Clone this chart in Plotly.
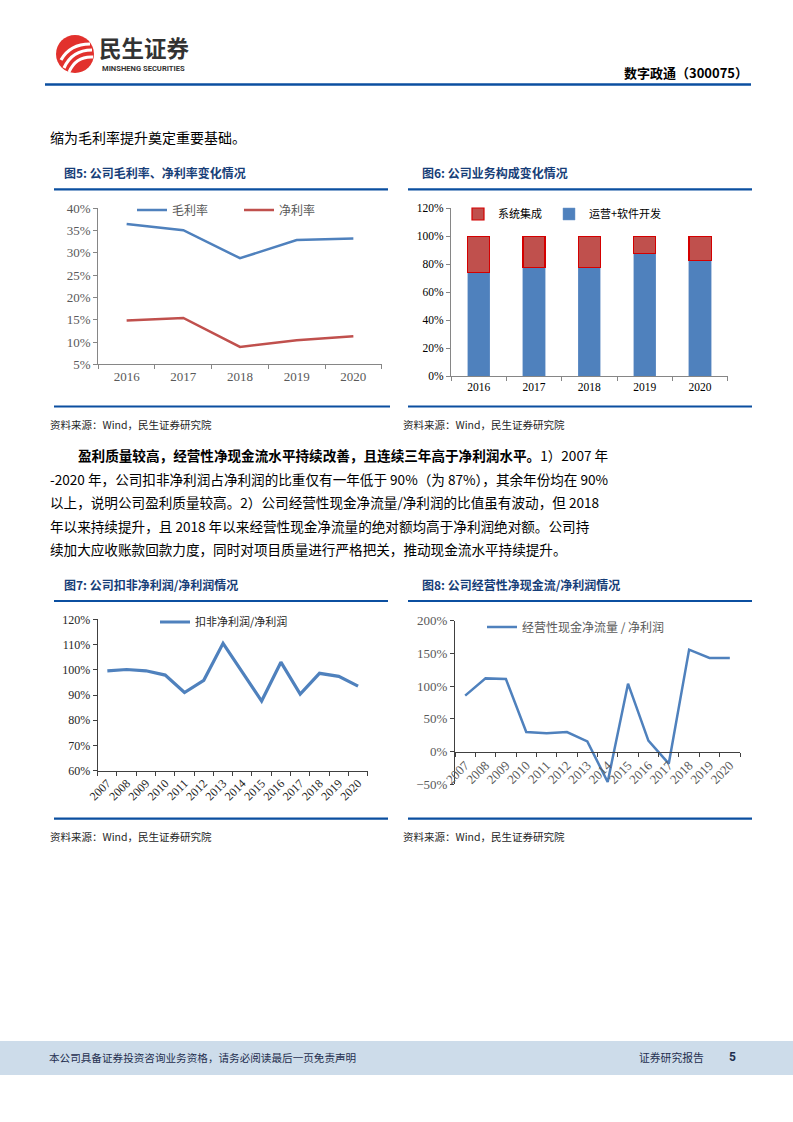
import plotly.graph_objects as go

W, H = 793, 1122


def px(x):
    return x / W


def py(y):
    return 1 - y / H


# ---------------- data ----------------
years_5 = ["2016", "2017", "2018", "2019", "2020"]
gross_margin = [36.5, 35.1, 28.8, 32.9, 33.2]
net_margin = [14.8, 15.4, 8.9, 10.4, 11.3]

years_6 = ["2016", "2017", "2018", "2019", "2020"]
ops_software = [74.2, 77.5, 77.8, 87.8, 82.8]
system_integration = [25.8, 22.5, 22.2, 12.2, 17.2]

years_7 = ["2007", "2008", "2009", "2010", "2011", "2012", "2013",
           "2014", "2015", "2016", "2017", "2018", "2019", "2020"]
deducted_to_net = [99.6, 100.1, 99.6, 97.9, 91.0, 95.8, 110.5,
                   99.2, 87.6, 103.0, 90.4, 98.6, 97.4, 93.5]

years_8 = ["2007", "2008", "2009", "2010", "2011", "2012", "2013",
           "2014", "2015", "2016", "2017", "2018", "2019", "2020"]
ocf_to_net = [85.3, 111.7, 110.8, 29.6, 27.6, 29.6, 15.3,
              -46.9, 103.6, 16.3, -18.9, 155.7, 143.0, 143.0]

BLUE = "#4F81BD"
RED = "#C0504D"
NAVY_LINE = "#0B4FA0"
TITLE_C = "#173E78"
SERIF = "Liberation Serif"
CJK = "Noto Sans CJK SC"

fig = go.Figure()

# chart 5
fig.add_trace(go.Scatter(x=years_5, y=gross_margin, mode="lines", name="毛利率",
                         line=dict(color=BLUE, width=2.5), xaxis="x", yaxis="y",
                         legend="legend", legendwidth=62))
fig.add_trace(go.Scatter(x=years_5, y=net_margin, mode="lines", name="净利率",
                         line=dict(color=RED, width=2.5), xaxis="x", yaxis="y",
                         legend="legend"))
# chart 6
fig.add_trace(go.Bar(x=years_6, y=ops_software, name="运营+软件开发",
                     marker=dict(color=BLUE, line=dict(color="#6F97C9", width=0.5)),
                     xaxis="x2", yaxis="y2", legend="legend2"))
fig.add_trace(go.Bar(x=years_6, y=system_integration, name="系统集成",
                     marker=dict(color=RED, line=dict(color="#D40000", width=1.2)),
                     xaxis="x2", yaxis="y2", legend="legend2", legendwidth=46))
# chart 7
fig.add_trace(go.Scatter(x=years_7, y=deducted_to_net, mode="lines", name="扣非净利润/净利润",
                         line=dict(color=BLUE, width=3.2), xaxis="x3", yaxis="y3",
                         legend="legend3"))
# chart 8
fig.add_trace(go.Scatter(x=years_8, y=ocf_to_net, mode="lines", name="经营性现金净流量 / 净利润",
                         line=dict(color=BLUE, width=2.5), xaxis="x4", yaxis="y4",
                         legend="legend4"))


def xax(x0, x1, anchor, n, tickfont, linecolor, **kw):
    d = dict(domain=[px(x0), px(x1)], anchor=anchor, type="category",
             range=[-0.5, n - 0.5], automargin=False,
             showline=True, linecolor=linecolor, linewidth=1,
             ticks="outside", tickson="boundaries", ticklen=4, tickcolor=linecolor,
             tickfont=tickfont, showgrid=False, zeroline=False, fixedrange=True)
    d.update(kw)
    return d


def yax(y_top, y_bot, anchor, rng, dtick, tickfont, linecolor, **kw):
    d = dict(domain=[py(y_bot), py(y_top)], anchor=anchor, range=rng, dtick=dtick,
             automargin=False,
             ticksuffix="%", showline=True, linecolor=linecolor, linewidth=1,
             ticks="outside", ticklen=4, tickcolor=linecolor, tickfont=tickfont,
             showgrid=False, zeroline=False, fixedrange=True)
    d.update(kw)
    return d


f5 = dict(family=SERIF, size=13, color="#595959")
f6 = dict(family=SERIF, size=11.5, color="#000000")
f7 = dict(family=SERIF, size=12, color="#262626")
f8 = dict(family=SERIF, size=13, color="#595959")

legend_common = dict(orientation="h", bgcolor="rgba(0,0,0,0)", borderwidth=0,
                     xanchor="left", yanchor="middle")

shapes = []
annotations = []


def hline(x0, x1, y, color=NAVY_LINE, width=2.2):
    shapes.append(dict(type="line", xref="paper", yref="paper",
                       x0=px(x0), x1=px(x1), y0=py(y), y1=py(y),
                       line=dict(color=color, width=width)))


def text(x, y, s, size, color="#000000", family=CJK, xanchor="left", pad=1):
    annotations.append(dict(xref="paper", yref="paper", x=px(x), y=py(y), text=s,
                            showarrow=False, xanchor=xanchor, yanchor="middle",
                            borderpad=pad,
                            font=dict(family=family, size=size, color=color)))


# header
hline(45, 751, 84.5, width=2.6)
shapes.append(dict(type="circle", xref="paper", yref="paper",
                   x0=px(56), x1=px(94), y0=py(73), y1=py(35),
                   fillcolor="#E2312D", line=dict(width=0)))


def path_px(pts):
    (x0, y0), (cx, cy), (x1, y1) = pts
    return f"M{px(x0)},{py(y0)} Q{px(cx)},{py(cy)} {px(x1)},{py(y1)}"


for pts, w in [(((61, 60), (70, 44), (90, 44)), 3.2),
               (((64, 68), (72, 50), (92, 50)), 3.2),
               (((69, 72), (76, 56), (93, 57)), 3.0)]:
    shapes.append(dict(type="path", xref="paper", yref="paper", path=path_px(pts),
                       line=dict(color="white", width=w)))

text(98, 46.5, "<b>民生证券</b>", 22.5, "#333333", pad=0)
text(101, 68.5, "<b>MINSHENG SECURITIES</b>", 7.6, "#333333", family="Roboto", pad=0)
text(750, 72, "<b>数字政通（300075）</b>", 13, "#000000", xanchor="right")
text(48, 137, "缩为毛利率提升奠定重要基础。", 14)

# chart titles and rules
text(62, 172, "<b>图5: 公司毛利率、净利率变化情况</b>", 12, TITLE_C)
text(420, 172, "<b>图6: 公司业务构成变化情况</b>", 12, TITLE_C)
hline(54, 388, 189.3)
hline(408, 752, 189.3)
hline(54, 390, 406.5)
hline(408, 752, 406.5)
text(48, 424, "资料来源：Wind，民生证券研究院", 10.5, "#262626")
text(401, 424, "资料来源：Wind，民生证券研究院", 10.5, "#262626")

text(62, 584, "<b>图7: 公司扣非净利润/净利润情况</b>", 12, TITLE_C)
text(420, 584, "<b>图8: 公司经营性净现金流/净利润情况</b>", 12, TITLE_C)
hline(54, 388, 601)
hline(408, 752, 601)
hline(54, 388, 818.7)
hline(408, 752, 818.7)
text(48, 836, "资料来源：Wind，民生证券研究院", 10.5, "#262626")
text(401, 836, "资料来源：Wind，民生证券研究院", 10.5, "#262626")

# paragraph
para = [
    (76, 455, "<b>盈利质量较高，经营性净现金流水平持续改善，且连续三年高于净利润水平。</b>1）2007 年"),
    (48, 479, "-2020 年，公司扣非净利润占净利润的比重仅有一年低于 90%（为 87%），其余年份均在 90%"),
    (48, 502, "以上，说明公司盈利质量较高。2）公司经营性现金净流量/净利润的比值虽有波动，但 2018"),
    (48, 526, "年以来持续提升，且 2018 年以来经营性现金净流量的绝对额均高于净利润绝对额。公司持"),
    (48, 549, "续加大应收账款回款力度，同时对项目质量进行严格把关，推动现金流水平持续提升。"),
]
for x, y, s in para:
    text(x, y, s, 13.6)

# footer
shapes.append(dict(type="rect", xref="paper", yref="paper", x0=0, x1=1,
                   y0=py(1075), y1=py(1041), fillcolor="#CDDCEA", line=dict(width=0),
                   layer="below"))
text(47, 1057, "本公司具备证券投资咨询业务资格，请务必阅读最后一页免责声明", 10.6, "#1F2F4F")
text(637, 1057, "证券研究报告", 10.8, "#1F2F4F")
text(727, 1057, "<b>5</b>", 12, "#1F2F4F", family="Roboto")

fig.update_layout(
    width=W, height=H, margin=dict(l=0, r=0, t=0, b=0, autoexpand=False),
    paper_bgcolor="white", plot_bgcolor="rgba(0,0,0,0)",
    showlegend=True, barmode="stack", bargap=0.6,
    xaxis=xax(98.3, 381.7, "y", 5, f5, "#868686"),
    yaxis=yax(208.3, 364.3, "x", [5, 40], 5, f5, "#868686"),
    xaxis2=xax(451, 727.7, "y2", 5, f6, "#868686"),
    yaxis2=yax(208.3, 376, "x2", [0, 120], 20, f6, "#868686"),
    xaxis3=xax(97.7, 367.7, "y3", 14, f7, "#404040", tickangle=-45),
    yaxis3=yax(619.3, 770.7, "x3", [60, 120], 10, f7, "#404040"),
    xaxis4=xax(455, 740, "free", 14, f8, "#404040", tickangle=-45, position=py(751.7)),
    yaxis4=yax(620.7, 784, "x4", [-50, 200], 50, f8, "#404040"),
    legend=dict(legend_common, x=px(132), y=py(210),
                font=dict(family=CJK, size=12, color="#595959")),
    legend2=dict(legend_common, x=px(458), y=py(214), traceorder="reversed",
                 font=dict(family=CJK, size=11, color="#000000")),
    legend3=dict(legend_common, x=px(155), y=py(622),
                 font=dict(family=CJK, size=11, color="#262626")),
    legend4=dict(legend_common, x=px(482), y=py(627),
                 font=dict(family=CJK, size=12, color="#595959")),
    shapes=shapes, annotations=annotations,
)

fig.write_html("out.html", config={"displayModeBar": False},
               post_script="document.body.style.margin='0';document.body.style.overflow='hidden';")
